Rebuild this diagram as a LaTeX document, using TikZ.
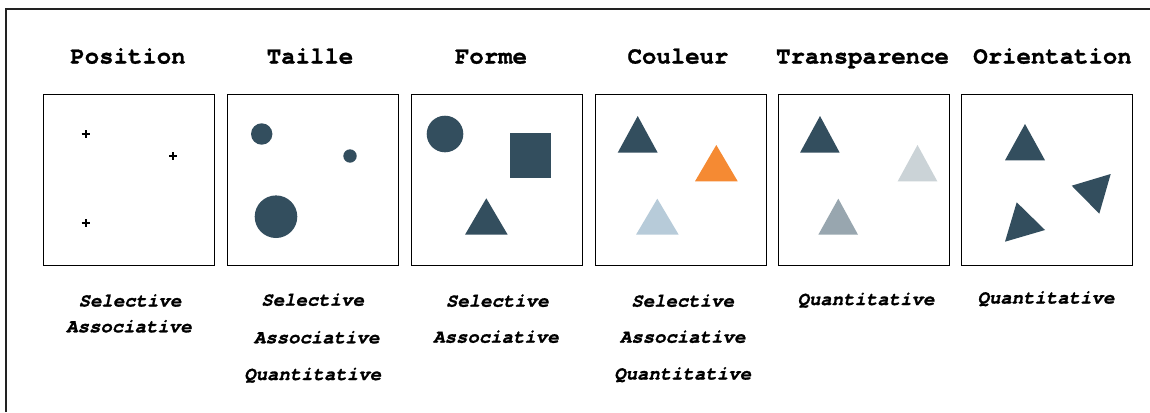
\documentclass[tikz,border=0pt]{standalone}
\usepackage{fontspec}
\setmonofont{TeX Gyre Cursor}[BoldFeatures={FakeBold=1.2},BoldItalicFeatures={FakeBold=1.2}]
\definecolor{slate}{HTML}{334E5E}
\definecolor{tangerine}{HTML}{F58A33}
\definecolor{paleblue}{HTML}{B7CBD9}
\definecolor{palegrey}{HTML}{CBD3D7}
\definecolor{midgrey}{HTML}{98A6AF}
\definecolor{framegrey}{HTML}{222222}
\begin{document}
\begin{tikzpicture}[x=1pt,y=-1pt,
  title/.style={anchor=base,inner sep=0pt,font=\fontsize{24}{28}\selectfont\ttfamily\bfseries},
  prop/.style={anchor=base,inner sep=0pt,font=\fontsize{19}{22}\selectfont\ttfamily\bfseries\itshape},
  panel/.style={draw=black,line width=0.9pt,anchor=north west,minimum width=171pt,minimum height=171pt,inner sep=0pt},
  cross/.style={line width=1.8pt,black}]
\useasboundingbox (0,0) rectangle (1150,412);
\fill[white] (0,0) rectangle (1150,412);
% outer frame: top and left rules only
\draw[framegrey,line width=1.3pt] (6,412) -- (6,9) -- (1150,9);

% column titles
\node[title] (t1) at (128,63.5) {Position};
\node[title] (t2) at (310,63.5) {Taille};
\node[title] (t3) at (491,63.5) {Forme};
\node[title] (t4) at (678,63.5) {Couleur};
\node[title] (t5) at (862.5,63.5) {Transparence};
\node[title] (t6) at (1052.5,63.5) {Orientation};

% panels
\node[panel] (p1) at (43,94) {};
\node[panel] (p2) at (227,94) {};
\node[panel] (p3) at (411,94) {};
\node[panel] (p4) at (595,94) {};
\node[panel] (p5) at (777.5,94) {};
\node[panel] (p6) at (960.5,94) {};

% Position: three crosses
\foreach \cx/\cy in {85.7/134, 173.3/156, 85.7/223.3}
  \draw[cross] (\cx-4,\cy) -- (\cx+4,\cy) (\cx,\cy-4) -- (\cx,\cy+4);

% Taille: circles of three sizes
\fill[slate] (261.7,134) circle (10.7);
\fill[slate] (350,156) circle (6.7);
\fill[slate] (276,216.7) circle (21.3);

% Forme: circle, square, triangle
\fill[slate] (445,134) circle (18.3);
\fill[slate] (509.7,133.3) rectangle (551,177.7);
\fill[slate] (486.3,198.3) -- (507.7,234.7) -- (465,234.7) -- cycle;

% Couleur: three hues
\fill[slate] (637.7,116) -- (657.7,152.7) -- (617.7,152.7) -- cycle;
\fill[tangerine] (716.3,145) -- (737.7,181.3) -- (695,181.3) -- cycle;
\fill[paleblue] (657.3,198.7) -- (678.7,234.7) -- (636,234.7) -- cycle;

% Transparence: one shade at three opacities
\fill[slate] (820,116) -- (839.7,152.7) -- (800,152.7) -- cycle;
\fill[palegrey] (917.5,145) -- (937.3,181.3) -- (897.7,181.3) -- cycle;
\fill[midgrey] (838.3,198.7) -- (858,234.7) -- (818.3,234.7) -- cycle;

% Orientation: the same triangle turned
\fill[slate] (1025,124) -- (1045,160.3) -- (1005,160.3) -- cycle;
\fill[slate] (1071.7,185.7) -- (1110.7,174) -- (1099.3,213.7) -- cycle;
\fill[slate] (1016.7,202.3) -- (1045,230) -- (1005,241.7) -- cycle;

% properties of each variable
\node[prop] (s1) at (130,306.5) {Selective};
\node[prop] (a1) at (129,332.3) {Associative};

\node[prop] (s2) at (312.7,305.7) {Selective};
\node[prop] (a2) at (316.7,343.3) {Associative};
\node[prop] (q2) at (312.7,380) {Quantitative};

\node[prop] (s3) at (497.3,306.7) {Selective};
\node[prop] (a3) at (496,342.7) {Associative};

\node[prop] (s4) at (682.7,306.7) {Selective};
\node[prop] (a4) at (682.7,342.7) {Associative};
\node[prop] (q4) at (682.7,379.5) {Quantitative};

\node[prop] (q5) at (866,305) {Quantitative};
\node[prop] (q6) at (1046,303.5) {Quantitative};
\end{tikzpicture}
\end{document}
